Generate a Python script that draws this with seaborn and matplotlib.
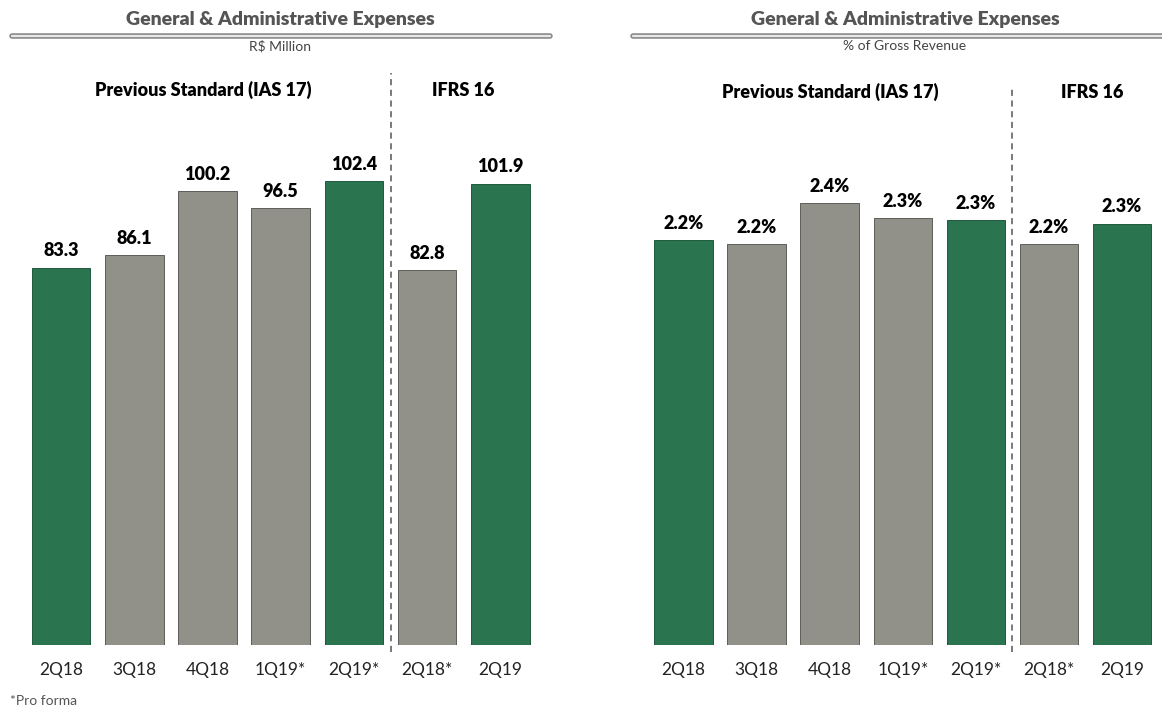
import matplotlib
matplotlib.use("Agg")
import matplotlib.pyplot as plt
import seaborn as sns
import pandas as pd
from matplotlib.lines import Line2D

# Quarter labels and values
quarters = ["2Q18", "3Q18", "4Q18", "1Q19*", "2Q19*", "2Q18*", "2Q19"]
ga_million = [83.3, 86.1, 100.2, 96.5, 102.4, 82.8, 101.9]
ga_pct_revenue = [2.20, 2.18, 2.40, 2.32, 2.31, 2.18, 2.29]
bar_kind = ["hl", "base", "base", "base", "hl", "base", "hl"]

GREEN = "#2A7550"
GRAY = "#91918A"
palette = {"hl": GREEN, "base": GRAY}
edge = {"hl": "#1F5A3D", "base": "#5E5E58"}

sns.set_theme(style="white")
plt.rcParams["font.family"] = ["Lato", "DejaVu Sans"]

fig = plt.figure(figsize=(11.62, 7.07), dpi=100)
W, H = 1162, 707

def px_axes(x0, x1, ytop, ybot):
    return fig.add_axes([x0 / W, 1 - ybot / H, (x1 - x0) / W, (ybot - ytop) / H])

ax_l = px_axes(24.4, 537, 60, 645)
ax_r = px_axes(647, 1158.6, 60, 645)

panels = [
    (ax_l, ga_million, 129.2, "{:.1f}", "R$ Million", 280, 12, 550, 0.978),
    (ax_r, ga_pct_revenue, 3.18, "{:.1f}%", "% of Gross Revenue", 905, 633, 1175, 0.952),
]

for ax, vals, ytop, fmt, subtitle, cx, lx0, lx1, dash_top in panels:
    df = pd.DataFrame({"quarter": quarters, "value": vals, "kind": bar_kind})
    sns.barplot(data=df, x="quarter", y="value", hue="kind", palette=palette,
                dodge=False, legend=False, width=0.8, ax=ax, saturation=1)
    for patch, k in zip(sorted(ax.patches, key=lambda p: p.get_x()), bar_kind):
        patch.set_edgecolor(edge[k])
        patch.set_linewidth(0.7)
    for cont in ax.containers:
        ax.bar_label(cont, labels=[fmt.format(v) for v in cont.datavalues],
                     padding=6, fontsize=13, fontweight="heavy", color="black")
    ax.set_xlim(-0.5, 6.5)
    ax.set_ylim(0, ytop)
    ax.set_xlabel("")
    ax.set_ylabel("")
    ax.set_yticks([])
    ax.tick_params(axis="x", length=0, pad=12, labelsize=12.5, labelcolor="#222222")
    sns.despine(ax=ax, left=True, bottom=True)
    ax.patch.set_alpha(0)

    # dashed separator between the two accounting standards
    ax.axvline(4.5, ymin=-0.012, ymax=dash_top, color="#555555", lw=1.1,
               ls=(0, (4, 3)), clip_on=False)

    # panel heading with double rule
    fig.text(cx / W, 1 - 20 / H, "General & Administrative Expenses", ha="center",
             va="center", fontsize=14, fontweight="heavy", color="#555555")
    y_rule = 1 - 35.5 / H
    fig.add_artist(Line2D([lx0 / W, lx1 / W], [y_rule, y_rule], color="#8A8A8A",
                          lw=4.0, solid_capstyle="round", transform=fig.transFigure))
    fig.add_artist(Line2D([lx0 / W, lx1 / W], [y_rule, y_rule], color="#E8E8E8",
                          lw=1.6, solid_capstyle="round", transform=fig.transFigure))
    fig.text(cx / W, 1 - 46 / H, subtitle, ha="center", va="center",
             fontsize=10, color="#444444")

for x, y, s in [(203, 90, "Previous Standard (IAS 17)"), (463, 90, "IFRS 16"),
                (830, 92, "Previous Standard (IAS 17)"), (1092, 92, "IFRS 16")]:
    fig.text(x / W, 1 - y / H, s, ha="center", va="center",
             fontsize=13, fontweight="heavy", color="black")

fig.text(10 / W, 1 - 701 / H, "*Pro forma", ha="left", va="center",
         fontsize=10, color="#555555")

fig.savefig("out.png", dpi=100)
